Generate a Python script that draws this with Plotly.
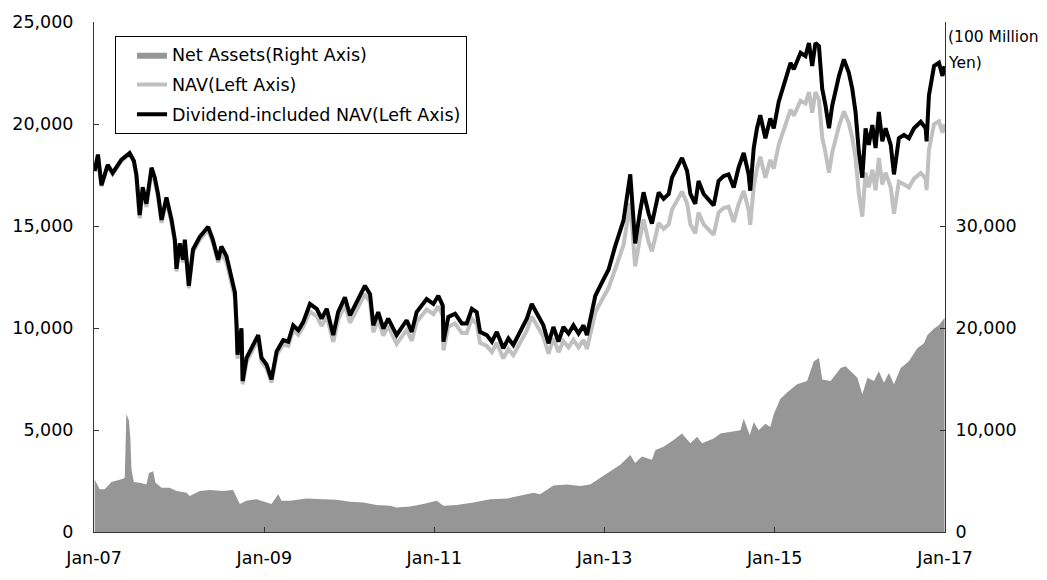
import plotly.graph_objects as go

# Daily-close series, sampled on the dates below
dates = [
    "2007-01-04", "2007-01-18", "2007-02-02", "2007-03-01", "2007-03-22", "2007-04-29", "2007-06-03", "2007-06-21",
    "2007-07-02", "2007-07-16", "2007-07-29", "2007-08-14", "2007-09-05", "2007-09-19", "2007-10-03", "2007-10-18",
    "2007-11-08", "2007-11-30", "2007-12-14", "2007-12-21", "2008-01-04", "2008-01-18", "2008-01-26", "2008-02-12",
    "2008-03-01", "2008-03-30", "2008-05-05", "2008-05-25", "2008-06-17", "2008-07-01", "2008-07-23", "2008-08-13",
    "2008-08-28", "2008-09-04", "2008-09-08", "2008-09-25", "2008-09-30", "2008-10-17", "2008-11-14", "2008-12-06",
    "2008-12-20", "2009-01-11", "2009-02-01", "2009-02-23", "2009-03-23", "2009-04-14", "2009-05-05", "2009-05-27",
    "2009-06-17", "2009-07-16", "2009-08-14", "2009-09-04", "2009-09-26", "2009-10-24", "2009-11-14", "2009-12-13",
    "2010-01-04", "2010-02-01", "2010-03-09", "2010-03-31", "2010-04-14", "2010-05-05", "2010-05-27", "2010-06-17",
    "2010-07-23", "2010-09-04", "2010-09-26", "2010-10-17", "2010-11-29", "2010-12-28", "2011-01-18", "2011-02-06",
    "2011-02-09", "2011-03-02", "2011-03-31", "2011-04-29", "2011-05-20", "2011-06-11", "2011-07-02", "2011-07-16",
    "2011-08-14", "2011-09-05", "2011-09-26", "2011-10-24", "2011-11-15", "2011-12-06", "2012-01-04", "2012-02-02",
    "2012-02-23", "2012-03-16", "2012-04-13", "2012-05-05", "2012-05-26", "2012-06-17", "2012-07-08", "2012-07-30",
    "2012-08-20", "2012-09-11", "2012-10-02", "2012-10-17", "2012-10-31", "2012-11-22", "2012-12-20", "2013-01-18",
    "2013-02-15", "2013-03-23", "2013-04-21", "2013-05-05", "2013-05-12", "2013-06-03", "2013-06-17", "2013-07-09",
    "2013-07-23", "2013-08-21", "2013-09-11", "2013-10-03", "2013-10-17", "2013-11-08", "2013-11-29", "2013-12-21",
    "2014-01-04", "2014-01-25", "2014-02-08", "2014-03-02", "2014-03-23", "2014-04-14", "2014-05-05", "2014-05-27",
    "2014-06-17", "2014-07-09", "2014-07-30", "2014-08-21", "2014-09-11", "2014-09-18", "2014-10-03", "2014-10-17",
    "2014-10-31", "2014-11-22", "2014-12-13", "2014-12-28", "2015-01-18", "2015-02-16", "2015-03-10", "2015-03-24",
    "2015-04-22", "2015-05-13", "2015-05-28", "2015-06-11", "2015-06-25", "2015-07-10", "2015-07-24", "2015-08-07",
    "2015-08-22", "2015-09-05", "2015-10-04", "2015-10-25", "2015-11-15", "2015-11-30", "2015-12-14", "2015-12-28",
    "2016-01-12", "2016-01-26", "2016-02-09", "2016-02-24", "2016-03-09", "2016-03-23", "2016-04-07", "2016-04-21",
    "2016-05-13", "2016-05-27", "2016-06-17", "2016-07-09", "2016-07-30", "2016-08-21", "2016-09-19", "2016-10-10",
    "2016-10-14", "2016-10-24", "2016-11-15", "2016-12-06", "2016-12-21", "2016-12-30",
]

# Dividend-included NAV (left axis, yen)
div_nav = [
    17700, 18500, 17000, 18000, 17600, 18250, 18580, 18200, 17530, 15540, 16900, 16090, 17860, 17370, 16570, 15300,
    16400, 15300, 14330, 12900, 14150, 13350, 14330, 12070, 13850, 14470, 14960, 14330, 13350, 14000, 13510, 12550,
    11740, 10130, 8690, 9990, 7400, 8540, 9170, 9650, 8540, 8200, 7480, 8850, 9410, 9330, 10130, 9890,
    10290, 11180, 10940, 10460, 10940, 9650, 10780, 11500, 10620, 11260, 12070, 11660, 10130, 10780, 9970, 10460,
    9650, 10380, 9810, 10780, 11420, 11180, 11580, 11100, 9330, 10540, 10700, 10220, 10220, 10940, 10780, 9810,
    9650, 9330, 9810, 9010, 9490, 9170, 9810, 10460, 11180, 10700, 10130, 9250, 10050, 9330, 10050, 9730,
    10130, 9730, 10130, 9650, 10460, 11580, 12230, 12870, 14000, 15280, 17530, 15120, 14150, 15770, 16650, 15600,
    15120, 16650, 16330, 16570, 17370, 17860, 18340, 17700, 16570, 16090, 17210, 16570, 16330, 16010, 17210, 17450,
    17530, 16890, 17860, 18580, 17530, 16730, 18820, 19790, 20430, 19300, 20270, 19790, 21080, 22200, 23000, 22680,
    23490, 23330, 23970, 22840, 23970, 23810, 21720, 20910, 19790, 20910, 22360, 23170, 22520, 21720, 20590, 18660,
    17370, 19790, 18980, 19950, 18820, 20590, 19150, 19790, 18980, 17530, 19300, 19470, 19300, 19790, 20110, 19790,
    19150, 21400, 22840, 23000, 22360, 22840,
]

# NAV (left axis, yen)
nav = [
    17650, 18440, 16950, 17950, 17550, 18200, 18520, 18150, 17350, 15380, 16730, 15930, 17680, 17200, 16400, 15150,
    16240, 15150, 14190, 12770, 14010, 13220, 14190, 11950, 13710, 14330, 14810, 14190, 13220, 13690, 13210, 12270,
    11480, 9910, 8500, 9770, 7240, 8350, 8970, 9440, 8350, 8020, 7320, 8660, 9200, 9120, 9910, 9670,
    10060, 10800, 10570, 10100, 10570, 9320, 10410, 11110, 10260, 10880, 11660, 11260, 9790, 10410, 9630, 10100,
    9220, 9910, 9370, 10290, 10910, 10680, 11060, 10600, 8910, 10070, 10220, 9760, 9760, 10450, 10190, 9270,
    9120, 8820, 9270, 8510, 8970, 8670, 9270, 9880, 10570, 10110, 9570, 8740, 9500, 8820, 9350, 9050,
    9420, 9050, 9420, 8970, 9730, 10770, 11370, 11970, 12880, 14060, 16130, 13910, 13020, 14510, 15320, 14200,
    13760, 15150, 14860, 15080, 15810, 16250, 16690, 16110, 15080, 14640, 15660, 15080, 14860, 14570, 15660, 15880,
    15950, 15200, 16070, 16720, 15780, 15060, 16940, 17810, 18390, 17370, 18240, 17810, 18970, 19980, 20700, 20410,
    21140, 21000, 21570, 20560, 21570, 21190, 19330, 18610, 17610, 18610, 19900, 20620, 20040, 19330, 18330, 16610,
    15460, 17610, 16890, 17760, 16750, 18330, 17040, 17610, 16890, 15600, 17180, 17040, 16890, 17320, 17600, 17320,
    16760, 18730, 19990, 20130, 19570, 19990,
]

# Net assets (right axis, 100 million yen)
asset_dates = [
    "2007-01-04", "2007-01-25", "2007-02-16", "2007-03-17", "2007-05-06", "2007-05-13", "2007-05-20", "2007-05-31",
    "2007-06-06", "2007-06-11", "2007-06-21", "2007-07-16", "2007-08-14", "2007-08-25", "2007-09-12", "2007-09-22",
    "2007-10-18", "2007-11-22", "2007-12-21", "2008-02-02", "2008-02-16", "2008-03-30", "2008-05-12", "2008-07-08",
    "2008-08-20", "2008-09-01", "2008-09-18", "2008-10-17", "2008-11-29", "2009-01-11", "2009-02-01", "2009-03-02",
    "2009-03-16", "2009-04-21", "2009-07-02", "2009-09-11", "2009-11-08", "2010-01-04", "2010-03-02", "2010-04-28",
    "2010-06-25", "2010-07-23", "2010-09-19", "2010-11-15", "2011-01-11", "2011-02-09", "2011-04-07", "2011-06-18",
    "2011-08-29", "2011-11-09", "2012-01-04", "2012-03-02", "2012-03-30", "2012-05-26", "2012-07-23", "2012-09-18",
    "2012-10-31", "2012-12-13", "2013-02-08", "2013-03-09", "2013-04-21", "2013-05-12", "2013-06-10", "2013-07-23",
    "2013-08-07", "2013-09-11", "2013-10-24", "2013-11-29", "2014-01-04", "2014-02-02", "2014-02-23", "2014-04-14",
    "2014-05-13", "2014-06-25", "2014-08-07", "2014-08-21", "2014-09-16", "2014-10-03", "2014-10-24", "2014-11-22",
    "2014-12-13", "2014-12-28", "2015-01-25", "2015-02-23", "2015-04-07", "2015-05-20", "2015-06-18", "2015-07-10",
    "2015-07-24", "2015-08-29", "2015-10-11", "2015-11-01", "2015-11-23", "2015-12-22", "2016-01-12", "2016-02-03",
    "2016-03-02", "2016-03-23", "2016-04-14", "2016-05-05", "2016-05-27", "2016-06-25", "2016-07-30", "2016-09-04",
    "2016-10-03", "2016-10-17", "2016-11-15", "2016-12-06", "2016-12-30",
]
net_assets = [
    5150, 4180, 4180, 4890, 5210, 5310, 11580, 10940, 9170, 6110, 4890, 4830, 4660, 5790, 5950, 4830,
    4340, 4340, 4020, 3860, 3540, 4020, 4120, 4020, 4120, 3540, 2740, 3060, 3220, 2900, 2740, 3700,
    3060, 3060, 3280, 3220, 3150, 2960, 2900, 2640, 2580, 2410, 2510, 2740, 3060, 2580, 2640, 2900,
    3220, 3280, 3600, 3860, 3700, 4570, 4660, 4500, 4660, 5310, 6110, 6590, 7560, 6760, 7400, 7080,
    8040, 8370, 9010, 9650, 8690, 9330, 8690, 9170, 9650, 9810, 9970, 11100, 9490, 10780, 9970, 10620,
    10300, 11580, 13030, 13680, 14480, 14800, 16730, 17050, 14960, 14800, 16090, 16250, 15770, 15120, 13510, 15120,
    14800, 15770, 14640, 15600, 14480, 16090, 16730, 18020, 18500, 19300, 19950, 20270, 21000,
]

x_tick_vals = ["2007-01-01", "2009-01-01", "2011-01-01", "2013-01-01", "2015-01-01", "2017-01-01"]
x_tick_text = ["Jan-07", "Jan-09", "Jan-11", "Jan-13", "Jan-15", "Jan-17"]
left_ticks = [0, 5000, 10000, 15000, 20000, 25000]
right_ticks = [0, 10000, 20000, 30000, 50000]
right_tick_text = ["0", "10,000", "20,000", "30,000", ""]

FONT = "DejaVu Sans"
FS = 17.5
AXIS_COLOR = "#333333"

fig = go.Figure()

fig.add_trace(go.Scatter(
    x=asset_dates, y=net_assets, name="Net Assets(Right Axis)", yaxis="y2",
    mode="lines", fill="tozeroy", fillcolor="#969696",
    line=dict(color="#969696", width=0), legendgroup="a",
))
fig.add_trace(go.Scatter(
    x=dates, y=nav, name="NAV(Left Axis)", mode="lines",
    line=dict(color="#c0c0c0", width=4), legendgroup="b",
))
fig.add_trace(go.Scatter(
    x=dates, y=div_nav, name="Dividend-included NAV(Left Axis)", mode="lines",
    line=dict(color="#000000", width=4), legendgroup="c",
))

fig.update_layout(
    width=1047, height=580,
    margin=dict(l=94, r=102, t=22, b=40),
    paper_bgcolor="white", plot_bgcolor="white",
    font=dict(family=FONT, size=FS, color="#000000"),
    showlegend=True,
    legend=dict(
        x=21 / 851, y=(540 - 36) / 518, xanchor="left", yanchor="top",
        bgcolor="white", bordercolor="#000000", borderwidth=1,
        font=dict(family=FONT, size=FS), traceorder="grouped",
        tracegroupgap=4, indentation=16,
        entrywidth=310, entrywidthmode="pixels",
    ),
    xaxis=dict(
        type="date", range=["2007-01-01", "2017-01-01"],
        tickvals=x_tick_vals, ticktext=x_tick_text,
        ticks="inside", ticklen=5, tickcolor=AXIS_COLOR,
        showline=True, linecolor=AXIS_COLOR, linewidth=1,
        showgrid=False, zeroline=False, ticklabelstandoff=10,
    ),
    yaxis=dict(
        range=[0, 25000], tickvals=left_ticks, tickformat=",",
        ticks="inside", ticklen=5, tickcolor=AXIS_COLOR,
        showline=True, linecolor=AXIS_COLOR, linewidth=1,
        showgrid=False, zeroline=False, ticklabelstandoff=16,
    ),
    yaxis2=dict(
        range=[0, 50000], overlaying="y", side="right",
        tickvals=right_ticks, ticktext=right_tick_text,
        ticks="inside", ticklen=5, tickcolor=AXIS_COLOR,
        showline=True, linecolor=AXIS_COLOR, linewidth=1,
        showgrid=False, zeroline=False, ticklabelstandoff=6,
    ),
)

# Unit label for the right axis
for txt, ypx in [("(100 Million", 37), ("Yen)", 64)]:
    fig.add_annotation(
        text=txt, xref="paper", yref="paper",
        x=1 + 1 / 851, y=(540 - ypx) / 518,
        xanchor="left", yanchor="middle", showarrow=False,
        font=dict(family=FONT, size=15.5),
    )

fig.write_html("out.html")
